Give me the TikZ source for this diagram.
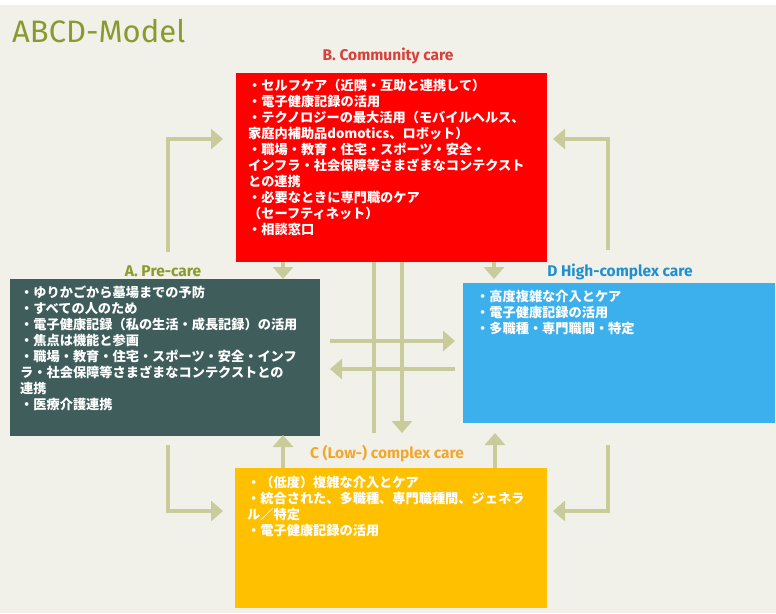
\documentclass[tikz,border=0pt]{standalone}
\usepackage{fontspec}
\newfontfamily\cjk{Noto Sans CJK JP}
\newfontfamily\ttl{Fira Sans}
\usetikzlibrary{arrows.meta}
\definecolor{bg}{HTML}{F2F1E9}
\definecolor{olive}{HTML}{8A9A2C}
\definecolor{btitle}{HTML}{D8413A}
\definecolor{dtitle}{HTML}{1E90D2}
\definecolor{ctitle}{HTML}{F0A830}
\definecolor{bfill}{HTML}{FF0000}
\definecolor{afill}{HTML}{3F5D5B}
\definecolor{dfill}{HTML}{3BB0EC}
\definecolor{cfill}{HTML}{FFC000}
\definecolor{arrc}{HTML}{C9CB9B}
\begin{document}
\begin{tikzpicture}[x=1pt,y=-1pt,
  box/.style={draw=none, inner sep=0pt, anchor=north west},
  txt/.style={inner sep=0pt, anchor=north west, align=left, text=white,
    font=\cjk\bfseries\fontsize{13.2}{16}\selectfont},
  boxtitle/.style={inner sep=0pt, anchor=base, font=\ttl\bfseries\fontsize{15.5}{18}\selectfont},
  ln/.style={draw=arrc, line width=4.5pt},
  arr/.style={ln, -{Triangle[width=20pt,length=12pt]}}]
% background
\path[fill=bg] (0,0) rectangle (776,613);
\path[fill=white] (0,0) rectangle (776,5);
% title
\node[inner sep=0pt, anchor=base west, text=olive, font=\ttl\fontsize{31}{35}\selectfont] (title) at (12,42) {ABCD-Model};
% boxes
\node[box, fill=bfill, minimum width=311pt, minimum height=189pt] (B) at (236,73) {};
\node[box, fill=afill, minimum width=310pt, minimum height=157pt] (A) at (10,279) {};
\node[box, fill=dfill, minimum width=312pt, minimum height=140pt] (D) at (463,283) {};
\node[box, fill=cfill, minimum width=312pt, minimum height=140pt] (C) at (235,468) {};
% box titles
\node[boxtitle, text=btitle] (Bl) at (388,60) {B. Community care};
\node[boxtitle, text=olive] (Al) at (163,276) {A. Pre-care};
\node[boxtitle, text=dtitle] (Dl) at (620,276) {D High-complex care};
\node[boxtitle, text=ctitle] (Cl) at (387,458) {C (Low-) complex care};
% box texts
\node[txt] (Bt) at (248,78.6) {・セルフケア（近隣・互助と連携して）\\・電子健康記録の活用\\・テクノロジーの最大活用（モバイルヘルス、\\家庭内補助品domotics、ロボット）\\・職場・教育・住宅・スポーツ・安全・\\インフラ・社会保障等さまざまなコンテクスト\\との連携\\・必要なときに専門職のケア\\（セーフティネット）\\・相談窓口};
\node[txt] (At) at (20,285.6) {・ゆりかごから墓場までの予防\\・すべての人のため\\・電子健康記録（私の生活・成長記録）の活用\\・焦点は機能と参画\\・職場・教育・住宅・スポーツ・安全・インフ\\ラ・社会保障等さまざまなコンテクストとの\\連携\\・医療介護連携};
\node[txt] (Dt) at (476,290) {・高度複雑な介入とケア\\・電子健康記録の活用\\・多職種・専門職間・特定};
\node[txt] (Ct) at (247,476) {・（低度）複雑な介入とケア\\・統合された、多職種、専門職種間、ジェネラ\\ル／特定\\・電子健康記録の活用};
% corner arrows
\coordinate (p1s) at (168,252); \coordinate (p1e) at (223,139);
\draw[arr] (p1s) |- (p1e);
\coordinate (p2s) at (608,250); \coordinate (p2e) at (553,139);
\draw[arr] (p2s) |- (p2e);
\coordinate (p3s) at (168,445); \coordinate (p3e) at (223,511);
\draw[arr] (p3s) |- (p3e);
\coordinate (p4s) at (608,445); \coordinate (p4e) at (553,511);
\draw[arr] (p4s) |- (p4e);
% short arrows
\coordinate (dA) at (283,279); \draw[arr] (B.south -| dA) -- (dA);
\coordinate (dD) at (494,279); \draw[arr] (B.south -| dD) -- (dD);
\coordinate (uA) at (283,435); \draw[arr] (C.north -| uA) -- (uA);
\coordinate (uD) at (495,433); \draw[arr] (C.north -| uD) -- (uD);
% long verticals
\coordinate (v1) at (374,433); \draw[ln] (B.south -| v1) -- (v1);
\coordinate (v2) at (402,433); \draw[arr] (B.south -| v2) -- (v2);
% horizontals
\coordinate (h1s) at (330,341); \coordinate (h1e) at (455,341);
\draw[arr] (h1s) -- (h1e);
\coordinate (h2s) at (455,369); \coordinate (h2e) at (330,369);
\draw[arr] (h2s) -- (h2e);
\end{tikzpicture}
\end{document}
